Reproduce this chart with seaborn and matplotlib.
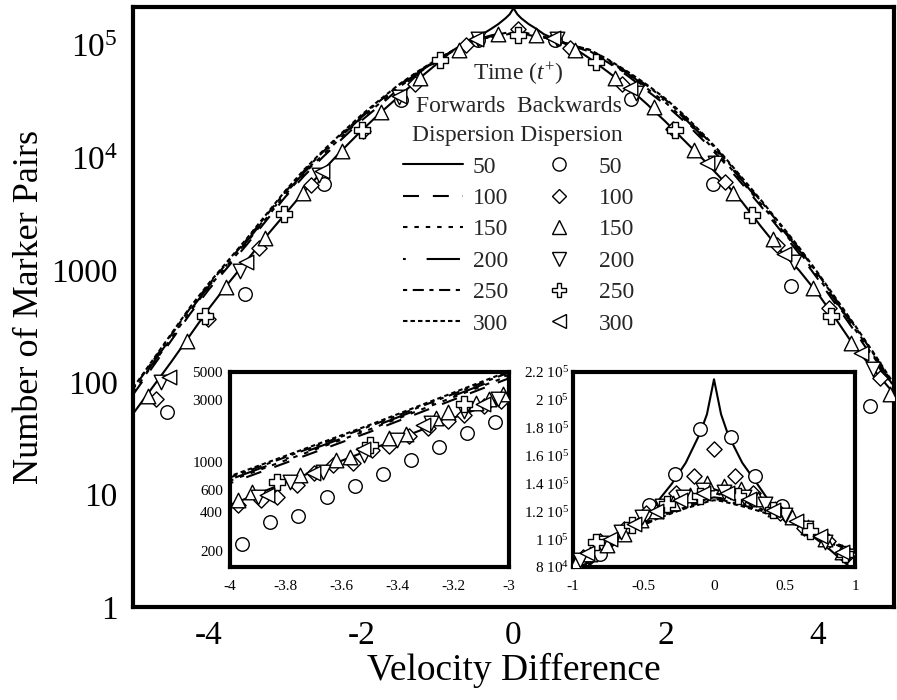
import numpy as np
import matplotlib
matplotlib.use("Agg")
import matplotlib.pyplot as plt
from matplotlib.lines import Line2D
from matplotlib.ticker import NullLocator
import seaborn as sns

# ---------------- data ----------------
times = ["50", "100", "150", "200", "250", "300"]

vel_line = [-5, -4.75, -4.5, -4.25, -4, -3.75, -3.5, -3.25, -3, -2.75, -2.5, -2.25,
            -2, -1.75, -1.5, -1.25, -1, -0.8, -0.6, -0.4, -0.3, -0.2, -0.1, -0.05,
            0, 0.05, 0.1, 0.2, 0.3, 0.4, 0.6, 0.8, 1, 1.25, 1.5, 1.75, 2, 2.25, 2.5,
            2.75, 3, 3.25, 3.5, 3.75, 4, 4.25, 4.5, 4.75, 5]

# forwards dispersion, log10(number of marker pairs)
fwd_050_log10 = [1.72, 1.95, 2.18, 2.42, 2.66, 2.88, 3.09, 3.30, 3.50, 3.70, 3.89, 4.07, 4.24, 4.40, 4.55, 4.70,
                 4.84, 4.955, 5.037, 5.104, 5.145, 5.19, 5.245, 5.278,
                 5.332,
                 5.278, 5.243, 5.19, 5.148, 5.10, 5.04, 4.975, 4.885,
                 4.76, 4.63, 4.48, 4.32, 4.15, 3.98, 3.80, 3.61, 3.39, 3.18, 3.00, 2.79, 2.55, 2.30, 2.10, 1.90]
fwd_100_log10 = [1.89, 2.13, 2.37, 2.61, 2.83, 3.03, 3.23, 3.44, 3.65, 3.84, 4.01, 4.17, 4.33, 4.47, 4.62, 4.745,
                 4.86, 4.945, 5.025, 5.07, 5.088, 5.104, 5.118, 5.126,
                 5.133,
                 5.128, 5.12, 5.106, 5.093, 5.078, 5.04, 4.99, 4.945,
                 4.845, 4.73, 4.60, 4.47, 4.32, 4.15, 3.97, 3.77, 3.57, 3.36, 3.15, 2.92, 2.68, 2.44, 2.19, 1.93]
fwd_150_log10 = [1.91, 2.15, 2.39, 2.63, 2.85, 3.05, 3.25, 3.46, 3.67, 3.86, 4.03, 4.19, 4.35, 4.49, 4.63, 4.755,
                 4.867, 4.948, 5.025, 5.067, 5.084, 5.099, 5.112, 5.119,
                 5.124,
                 5.12, 5.114, 5.102, 5.09, 5.076, 5.04, 4.993, 4.95,
                 4.855, 4.74, 4.62, 4.49, 4.34, 4.17, 3.99, 3.79, 3.59, 3.38, 3.17, 2.94, 2.70, 2.46, 2.21, 1.95]
fwd_200_log10 = [1.92, 2.16, 2.40, 2.64, 2.86, 3.06, 3.26, 3.47, 3.68, 3.87, 4.04, 4.20, 4.36, 4.50, 4.64, 4.76,
                 4.87, 4.95, 5.025, 5.065, 5.08, 5.094, 5.104, 5.11,
                 5.114,
                 5.112, 5.107, 5.098, 5.087, 5.074, 5.04, 4.995, 4.955,
                 4.86, 4.75, 4.63, 4.50, 4.35, 4.18, 4.00, 3.80, 3.60, 3.39, 3.18, 2.95, 2.71, 2.47, 2.22, 1.96]
fwd_250_log10 = [1.94, 2.18, 2.42, 2.66, 2.875, 3.075, 3.275, 3.485, 3.695, 3.885, 4.055, 4.215, 4.37, 4.51, 4.65, 4.767,
                 4.875, 4.952, 5.023, 5.062, 5.077, 5.09, 5.10, 5.106,
                 5.11,
                 5.108, 5.104, 5.095, 5.085, 5.072, 5.04, 4.997, 4.96,
                 4.867, 4.76, 4.645, 4.515, 4.365, 4.195, 4.015, 3.815, 3.615, 3.405, 3.195, 2.965, 2.725, 2.485, 2.235, 1.975]
fwd_300_log10 = [1.95, 2.19, 2.43, 2.67, 2.885, 3.085, 3.285, 3.495, 3.705, 3.895, 4.065, 4.225, 4.38, 4.52, 4.655, 4.772,
                 4.878, 4.954, 5.022, 5.06, 5.074, 5.087, 5.097, 5.103,
                 5.107,
                 5.105, 5.101, 5.092, 5.082, 5.07, 5.039, 4.998, 4.962,
                 4.872, 4.767, 4.652, 4.525, 4.375, 4.205, 4.025, 3.825, 3.625, 3.415, 3.205, 2.975, 2.735, 2.495, 2.245, 1.985]

# backwards dispersion, main panel (log10 counts)
bwd_050_main_x = [-4.55, -3.53, -2.49, -1.48, -0.47, 0.55, 1.55, 2.62, 3.64, 4.69]
bwd_050_main_log10 = [1.74, 2.79, 3.77, 4.51, 5.05, 5.05, 4.52, 3.77, 2.86, 1.79]
bwd_100_main_x = [-4.7, -4.02, -3.34, -2.66, -1.98, -1.3, -0.62, 0.06, 0.74, 1.42, 2.1, 2.78, 3.46, 4.14, 4.82]
bwd_100_main_log10 = [1.85, 2.56, 3.2, 3.76, 4.24, 4.66, 5.0, 5.15, 4.98, 4.66, 4.26, 3.78, 3.22, 2.66, 2.04]
bwd_150_main_x = [-4.8, -4.29, -3.78, -3.27, -2.76, -2.25, -1.74, -1.23, -0.72, -0.21, 0.3, 0.81, 1.33,
                  1.85, 2.37, 2.89, 3.41, 3.93, 4.44, 4.95]
bwd_150_main_log10 = [1.88, 2.37, 2.85, 3.29, 3.69, 4.06, 4.41, 4.71, 4.96, 5.1, 5.09, 4.96, 4.71,
                      4.45, 4.07, 3.69, 3.28, 2.84, 2.35, 1.9]
bwd_200_main_x = [-4.63, -3.59, -2.55, -1.51, -0.47, 0.57, 1.61, 2.65, 3.69, 4.73]
bwd_200_main_log10 = [2.0, 2.99, 3.85, 4.54, 5.06, 5.06, 4.58, 3.95, 3.07, 2.12]
bwd_250_main_x = [-4.05, -3.02, -1.99, -0.96, 0.06, 1.09, 2.12, 3.14, 4.17]
bwd_250_main_log10 = [2.59, 3.5, 4.25, 4.87, 5.09, 4.85, 4.25, 3.49, 2.59]
bwd_300_main_x = [-4.53, -3.52, -2.51, -1.5, -0.49, 0.52, 1.53, 2.54, 3.55, 4.56]
bwd_300_main_log10 = [2.05, 3.07, 3.88, 4.55, 5.06, 5.07, 4.62, 3.95, 3.14, 2.26]

# backwards dispersion, left inset (counts)
bwd_050_left_x = [-3.958, -3.856, -3.755, -3.654, -3.553, -3.453, -3.352, -3.252, -3.151, -3.05]
bwd_050_left_n = [226, 334, 373, 527, 644, 796, 1028, 1295, 1670, 2050]
bwd_100_left_x = [-3.97, -3.89, -3.83, -3.76, -3.70, -3.63, -3.56, -3.49, -3.43, -3.36, -3.29, -3.22, -3.16, -3.09, -3.03]
bwd_100_left_n = [454, 497, 525, 653, 807, 938, 968, 1230, 1310, 1570, 1830, 2060, 2290, 2710, 2970]
bwd_150_left_x = [-3.97, -3.92, -3.75, -3.62, -3.57, -3.43, -3.37, -3.26, -3.22, -3.12, -3.07, -3.02]
bwd_150_left_n = [497, 578, 782, 1030, 1090, 1520, 1640, 2190, 2430, 2880, 3090, 3350]
bwd_200_left_x = [-3.90, -3.785, -3.665, -3.52, -3.40, -3.28, -3.16, -3.04]
bwd_200_left_n = [525, 692, 830, 1120, 1480, 1990, 2460, 3050]
bwd_250_left_x = [-3.833, -3.498, -3.163]
bwd_250_left_n = [690, 1350, 2800]
bwd_300_left_x = [-3.868, -3.701, -3.522, -3.307, -3.092]
bwd_300_left_n = [550, 815, 1250, 1940, 2800]

# backwards dispersion, right inset (counts)
bwd_050_right_x = [-0.81, -0.46, -0.28, -0.1, 0.12, 0.29, 0.48]
bwd_050_right_n = [8.9e4, 1.245e5, 1.47e5, 1.79e5, 1.73e5, 1.45e5, 1.24e5]
bwd_100_right_x = [-0.93, -0.81, -0.64, -0.48, -0.27, -0.14, 0.0, 0.15, 0.28, 0.47, 0.64, 0.81, 0.95]
bwd_100_right_n = [8.7e4, 9.9e4, 1.07e5, 1.19e5, 1.33e5, 1.45e5, 1.65e5, 1.45e5, 1.33e5, 1.19e5, 1.08e5, 9.9e4, 8.9e4]
bwd_150_right_x = [-0.98, -0.88, -0.76, -0.64, -0.52, -0.41, -0.29, -0.17, -0.05, 0.07, 0.19, 0.31,
                   0.43, 0.55, 0.67, 0.79, 0.91]
bwd_150_right_n = [8.3e4, 8.9e4, 9.6e4, 1.04e5, 1.14e5, 1.2e5, 1.26e5, 1.32e5, 1.4e5, 1.38e5, 1.36e5, 1.29e5,
                   1.22e5, 1.16e5, 1.09e5, 1.0e5, 9.1e4]
bwd_200_right_x = [-0.95, -0.8, -0.66, -0.51, -0.37, -0.22, -0.08, 0.07, 0.21, 0.36, 0.5, 0.65, 0.79, 0.94]
bwd_200_right_n = [8.5e4, 9.7e4, 1.05e5, 1.16e5, 1.24e5, 1.3e5, 1.35e5, 1.34e5, 1.3e5, 1.25e5, 1.17e5, 1.08e5, 9.8e4, 8.8e4]
bwd_250_right_x = [-0.84, -0.58, -0.33, -0.1, 0.17, 0.42, 0.68, 0.93]
bwd_250_right_n = [9.8e4, 1.1e5, 1.25e5, 1.31e5, 1.31e5, 1.21e5, 1.06e5, 8.9e4]
bwd_300_right_x = [-0.9, -0.74, -0.57, -0.41, -0.24, -0.08, 0.09, 0.25, 0.42, 0.58, 0.75, 0.91]
bwd_300_right_n = [9.0e4, 1.0e5, 1.11e5, 1.2e5, 1.28e5, 1.33e5, 1.33e5, 1.29e5, 1.21e5, 1.13e5, 1.02e5, 9.1e4]

main_xticks = [-4, -2, 0, 2, 4]
main_xticklabels = ["-4", "-2", "0", "2", "4"]
main_yticks = [1, 10, 100, 1000, 1e4, 1e5]
main_yticklabels = ["1", "10", "100", "1000", "10$^4$", "10$^5$"]
left_xticks = [-4, -3.8, -3.6, -3.4, -3.2, -3]
left_xticklabels = ["-4", "-3.8", "-3.6", "-3.4", "-3.2", "-3"]
left_yticks = [200, 400, 600, 1000, 3000, 5000]
left_yticklabels = ["200", "400", "600", "1000", "3000", "5000"]
right_xticks = [-1, -0.5, 0, 0.5, 1]
right_xticklabels = ["-1", "-0.5", "0", "0.5", "1"]
right_yticks = [8e4, 1e5, 1.2e5, 1.4e5, 1.6e5, 1.8e5, 2e5, 2.2e5]
right_yticklabels = ["8 10$^4$", "1 10$^5$", "1.2 10$^5$", "1.4 10$^5$", "1.6 10$^5$",
                     "1.8 10$^5$", "2 10$^5$", "2.2 10$^5$"]

# ---------------- styling ----------------
sns.set_theme(style="white")
plt.rcParams["font.family"] = ["Liberation Serif", "DejaVu Serif"]
plt.rcParams["mathtext.fontset"] = "custom"
plt.rcParams["mathtext.rm"] = "Liberation Serif"
plt.rcParams["mathtext.it"] = "Liberation Serif:italic"
plt.rcParams["mathtext.bf"] = "Liberation Serif:bold"
plt.rcParams["axes.unicode_minus"] = False
plt.rcParams["lines.scale_dashes"] = False

fwd_series = [fwd_050_log10, fwd_100_log10, fwd_150_log10, fwd_200_log10, fwd_250_log10, fwd_300_log10]
fwd_styles = ["-", (0, (11.5, 10)), (0, (3.2, 5.0)), (0, (2.0, 15.0, 24.0, 15.0)),
              (0, (3.0, 4.0, 8.0, 4.0)), (0, (3.2, 2.2))]
bwd_markers = ["o", "D", "^", "v", "P", "<"]
bwd_sizes = [95, 60, 110, 110, 120, 110]
bwd_main = [(bwd_050_main_x, bwd_050_main_log10), (bwd_100_main_x, bwd_100_main_log10),
            (bwd_150_main_x, bwd_150_main_log10), (bwd_200_main_x, bwd_200_main_log10),
            (bwd_250_main_x, bwd_250_main_log10), (bwd_300_main_x, bwd_300_main_log10)]
bwd_left = [(bwd_050_left_x, bwd_050_left_n), (bwd_100_left_x, bwd_100_left_n),
            (bwd_150_left_x, bwd_150_left_n), (bwd_200_left_x, bwd_200_left_n),
            (bwd_250_left_x, bwd_250_left_n), (bwd_300_left_x, bwd_300_left_n)]
bwd_right = [(bwd_050_right_x, bwd_050_right_n), (bwd_100_right_x, bwd_100_right_n),
             (bwd_150_right_x, bwd_150_right_n), (bwd_200_right_x, bwd_200_right_n),
             (bwd_250_right_x, bwd_250_right_n), (bwd_300_right_x, bwd_300_right_n)]


def draw_forward(a, lw):
    for logs, ls in zip(fwd_series, fwd_styles):
        counts = np.power(10.0, np.asarray(logs))
        sns.lineplot(x=vel_line, y=counts, ax=a, color="black", linewidth=lw,
                     estimator=None, sort=False, legend=False, zorder=2)
        a.lines[-1].set_linestyle(ls)


def draw_backward(a, data, logvals):
    for (xs, ys), m, s in zip(data, bwd_markers, bwd_sizes):
        yv = np.power(10.0, np.asarray(ys)) if logvals else np.asarray(ys)
        sns.scatterplot(x=xs, y=yv, ax=a, marker=m, s=s, color="white",
                        edgecolor="black", linewidth=1.0, zorder=3, legend=False)


def frame(a, lw=3.0):
    for sp in a.spines.values():
        sp.set_visible(True)
        sp.set_linewidth(lw)
        sp.set_color("black")
    a.grid(False)


fig = plt.figure(figsize=(8.97, 7.0), dpi=100)

# ---------------- main panel ----------------
ax = fig.add_axes([133 / 897, 93 / 700, 761 / 897, 600 / 700])
draw_forward(ax, 1.5)
draw_backward(ax, bwd_main, True)
ax.set_yscale("log")
ax.set_xlim(-5, 5)
ax.set_ylim(1, 2.2e5)
ax.set_xticks(main_xticks, labels=main_xticklabels)
ax.set_yticks(main_yticks, labels=main_yticklabels)
ax.yaxis.set_minor_locator(NullLocator())
ax.tick_params(axis="both", length=0, labelsize=24, colors="black")
ax.tick_params(axis="x", pad=10)
ax.tick_params(axis="y", pad=11)
ax.set_xlabel("Velocity Difference", fontsize=27, labelpad=1, color="black")
ax.set_ylabel("Number of Marker Pairs", fontsize=26, labelpad=4, color="black")
frame(ax)

# legend (two columns: forwards lines, backwards markers)
handles = [Line2D([], [], color="black", lw=1.5, linestyle=ls) for ls in fwd_styles]
handles += [Line2D([], [], ls="none", marker=m, markersize=9.5 if m != "D" else 7.5,
                   markerfacecolor="white", markeredgecolor="black", markeredgewidth=1.0)
            for m in bwd_markers]
labels = times + times
leg = ax.legend(handles, labels, ncol=2, loc="upper left",
                bbox_to_anchor=(403 / 897, 1 - 156 / 700), bbox_transform=fig.transFigure,
                frameon=False, fontsize=17, handlelength=2.55, handletextpad=0.4,
                columnspacing=0.9, labelspacing=0.42, borderpad=0, borderaxespad=0)
fig.text(518 / 897, 1 - 74 / 700, "Time ($t^{+}$)", ha="center", va="center", fontsize=17)
fig.text(519 / 897, 1 - 106 / 700, "Forwards  Backwards", ha="center", va="center", fontsize=17)
fig.text(517 / 897, 1 - 136 / 700, "Dispersion Dispersion", ha="center", va="center", fontsize=17)

# ---------------- left inset ----------------
ax1 = fig.add_axes([230 / 897, 133 / 700, 279 / 897, 195 / 700])
ax1.set_facecolor("white")
draw_forward(ax1, 1.5)
draw_backward(ax1, bwd_left, False)
ax1.set_yscale("log")
ax1.set_xlim(-4, -3)
ax1.set_ylim(150, 5000)
ax1.set_xticks(left_xticks, labels=left_xticklabels)
ax1.set_yticks(left_yticks, labels=left_yticklabels)
ax1.yaxis.set_minor_locator(NullLocator())
ax1.tick_params(axis="both", length=0, labelsize=11, colors="black")
ax1.tick_params(axis="x", pad=9)
ax1.tick_params(axis="y", pad=5)
ax1.set_xlabel("")
ax1.set_ylabel("")
frame(ax1)

# ---------------- right inset ----------------
ax2 = fig.add_axes([573 / 897, 133 / 700, 282 / 897, 195 / 700])
ax2.set_facecolor("white")
draw_forward(ax2, 1.5)
draw_backward(ax2, bwd_right, False)
ax2.set_xlim(-1, 1)
ax2.set_ylim(8e4, 2.2e5)
ax2.set_xticks(right_xticks, labels=right_xticklabels)
ax2.set_yticks(right_yticks, labels=right_yticklabels)
ax2.tick_params(axis="both", length=0, labelsize=11, colors="black")
ax2.tick_params(axis="x", pad=9)
ax2.tick_params(axis="y", pad=3)
ax2.set_xlabel("")
ax2.set_ylabel("")
frame(ax2)

fig.savefig("out.png", dpi=100, facecolor="white")
